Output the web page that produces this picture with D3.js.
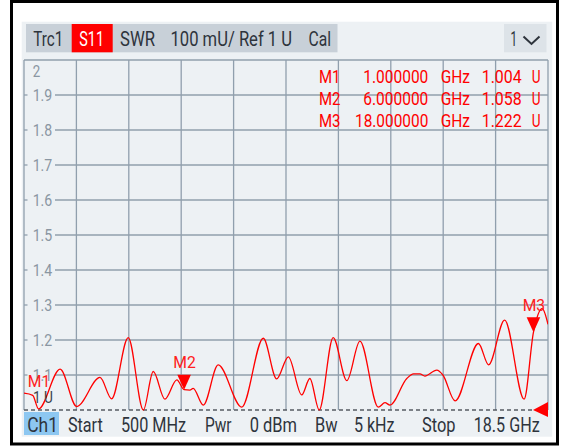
<!DOCTYPE html>
<html><head><meta charset="utf-8">
<script src="https://cdn.jsdelivr.net/npm/d3@7"></script>
<style>
html,body{margin:0;padding:0;background:#fff;}
svg{display:block;}
text{font-family:Roboto,"Noto Sans",sans-serif;}
</style></head>
<body>
<svg id="chart" width="569" height="447"></svg>
<script>
// ---- data ----
const freqGHz = [0.5,0.80,1.0,1.74,2.31,3.11,3.51,4.08,4.60,4.94,5.34,5.75,6.0,6.20,6.31,6.66,7.17,7.98,8.72,9.18,9.58,10.04,10.32,10.64,11.12,11.59,12.04,12.67,12.90,13.07,13.65,13.88,14.10,14.27,14.68,14.89,15.31,16.11,16.46,17.01,17.68,18.0,18.3,18.5];
const swr     = [1.048,1.042,1.003,1.117,1.010,1.093,1.032,1.207,1.000,1.110,1.031,1.086,1.058,1.057,1.062,1.014,1.129,1.008,1.205,1.089,1.152,1.043,1.090,1.000,1.207,1.084,1.197,1.008,1.021,1.014,1.090,1.103,1.103,1.097,1.114,1.100,1.026,1.190,1.129,1.257,1.031,1.222,1.290,1.245];
const markerNames = ["M1","M2","M3"];
const markerFreq  = [1.0, 6.0, 18.0];
const markerValue = [1.004, 1.058, 1.222];
const markerFreqText  = ["1.000000","6.000000","18.000000"];
const markerValueText = ["1.004","1.058","1.222"];
const yTickValues = [1.9,1.8,1.7,1.6,1.5,1.4,1.3,1.2,1.1];
const xDivisions = 10;
const headerItems = ["Trc1","S11","SWR","100 mU/ Ref 1 U","Cal"];
const footerItems = ["Ch1","Start","500 MHz","Pwr","0 dBm","Bw","5 kHz","Stop","18.5 GHz"];

// ---- layout ----
const svg = d3.select("#chart");
const L=24, R=548, T=60, B=410;
const x = d3.scaleLinear().domain([0.5,18.5]).range([L,R]);
const y = d3.scaleLinear().domain([1,2]).range([B,T]);
const gridCol = "#909fad", panelCol = "#edf1f4";

function txt(g, xx, yy, s, size, color, width, anchor){
  const t = g.append("text").attr("x",xx).attr("y",yy).text(s)
    .attr("font-size",size).attr("fill",color)
    .attr("text-anchor",anchor||"start");
  if(width){ t.attr("textLength",width).attr("lengthAdjust","spacingAndGlyphs"); }
  return t;
}

// frame + panel
svg.append("rect").attr("x",11.5).attr("y",1.5).attr("width",546).attr("height",442.5)
  .attr("fill","#fff").attr("stroke","#000").attr("stroke-width",3);
svg.append("rect").attr("x",21.7).attr("y",21.7).attr("width",530.5).attr("height",415)
  .attr("fill",panelCol);

// header bar
const hdr = svg.append("g");
hdr.append("rect").attr("x",26).attr("y",24).attr("width",311.5).attr("height",28.3).attr("fill","#c8d0d8");
hdr.append("rect").attr("x",71.7).attr("y",24).attr("width",41).attr("height",28.3).attr("fill","#ff0000");
hdr.append("rect").attr("x",504).attr("y",24).attr("width",42.5).attr("height",28.3).attr("fill","#dde3e8");
const hdrX = [33.3,79.3,120,170.5,308.5], hdrW=[30,24.7,35,121.5,22.5];
headerItems.forEach((s,i)=>txt(hdr,hdrX[i],46,s,20,i===1?"#fff":"#2e343c",hdrW[i]));
txt(hdr,510.5,46,"1",20,"#2e343c",6.5);
hdr.append("path").attr("d",d3.line()([[523.5,36.5],[531.5,44],[539.5,36.5]]))
  .attr("fill","none").attr("stroke","#2e343c").attr("stroke-width",2);

// grid
const grid = svg.append("g");
for(let i=0;i<=xDivisions;i++){
  const gx = L + (R-L)*i/xDivisions;
  grid.append("line").attr("x1",gx).attr("x2",gx).attr("y1",T).attr("y2",B)
    .attr("stroke",gridCol).attr("stroke-width",1.3);
}
grid.append("line").attr("x1",L).attr("x2",R).attr("y1",T).attr("y2",T)
  .attr("stroke",gridCol).attr("stroke-width",1.3);
yTickValues.forEach(v=>{
  grid.append("line").attr("x1",55).attr("x2",R).attr("y1",y(v)).attr("y2",y(v))
    .attr("stroke",gridCol).attr("stroke-width",1.3);
  grid.append("line").attr("x1",L).attr("x2",27.5).attr("y1",y(v)).attr("y2",y(v))
    .attr("stroke",gridCol).attr("stroke-width",1.3);
});
// cover the left grid line segment near labels (labels sit on panel colour)
yTickValues.forEach(v=>{
  txt(grid,32.7,y(v)+6.3,d3.format(".1f")(v),16.5,"#8a96a2",19.6);
});
txt(grid,32.7,76.5,"2",16.5,"#8a96a2",7.5);

// reference line dashed
svg.append("line").attr("x1",L).attr("x2",R).attr("y1",B).attr("y2",B)
  .attr("stroke","#555b62").attr("stroke-width",1.5).attr("stroke-dasharray","4,3");

// trace
svg.append("clipPath").attr("id","plotclip").append("rect")
  .attr("x",L).attr("y",T).attr("width",R-L).attr("height",B-T+2);
const line = d3.line().x((d,i)=>x(freqGHz[i])).y(d=>y(d)).curve(d3.curveMonotoneX);
svg.append("path").attr("d",line(swr)).attr("clip-path","url(#plotclip)")
  .attr("fill","none").attr("stroke","#ff0000").attr("stroke-width",1.3);

// "1 U" reference label
txt(svg,33,403,"1 U",16.5,"#3b434d",20);

// markers
markerNames.forEach((m,i)=>{
  const mx = x(markerFreq[i]), my = y(markerValue[i]);
  if(i>0){
    svg.append("path").attr("d",`M${mx-6.8},${my-15} L${mx+6.8},${my-15} L${mx},${my} Z`).attr("fill","#ff0000");
  }
  txt(svg,mx+0.5,my-21.5,m,16.5,"#ff2020",22.5,"middle");
});

// reference level triangle
svg.append("path").attr("d",`M${R},${B-8} L${R},${B+7} L${R-15},${B} Z`).attr("fill","#ff0000");

// marker info table
const info = svg.append("g");
markerNames.forEach((m,i)=>{
  const by = 83.3 + i*21.7;
  txt(info,319,by,m,18.5,"#ff0000",21.5);
  txt(info,428.3,by,markerFreqText[i],18.5,"#ff0000",markerFreqText[i].length===9?73.3:65,"end");
  txt(info,440.7,by,"GHz",18.5,"#ff0000",29.3);
  txt(info,521.7,by,markerValueText[i],18.5,"#ff0000",40,"end");
  txt(info,531.7,by,"U",18.5,"#ff0000",8.8);
});

// footer
const ftr = svg.append("g");
ftr.append("rect").attr("x",24).attr("y",412).attr("width",35).attr("height",23).attr("fill","#8dc7f1");
const ftrX=[27.2,67.9,120.9,205,249.7,315,353.9,422,473.7];
const ftrW=[30.8,34.8,65.3,26.6,47.3,22.6,40.7,33.5,66];
footerItems.forEach((s,i)=>txt(ftr,ftrX[i],431.5,s,20,"#2e343c",ftrW[i]));
</script>
</body></html>
